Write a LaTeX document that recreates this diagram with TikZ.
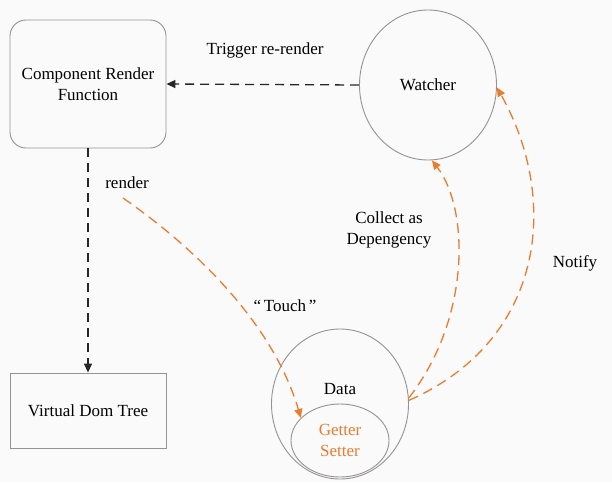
\documentclass[tikz,border=0pt]{standalone}
\usepackage{fontspec}
\setmainfont{Liberation Serif}
\usetikzlibrary{arrows.meta,shapes.geometric}
\definecolor{flow}{RGB}{234,124,48}
\definecolor{edge}{RGB}{150,146,146}
\definecolor{paper}{RGB}{250,250,250}
\tikzset{
  shapeline/.style={draw=edge, line width=0.9pt},
  dashblack/.style={draw=black!85, line width=1.3pt, dash pattern=on 9pt off 6pt,
    -{Triangle[length=9pt,width=8pt]}},
  dashorange/.style={draw=flow, line width=1.3pt, dash pattern=on 10pt off 6pt,
    -{Triangle[length=9pt,width=8pt,fill=flow]}},
  lbl/.style={font=\fontsize{17}{20.5}\selectfont, align=center}
}
\begin{document}
\begin{tikzpicture}[x=1pt,y=-1pt]
  \fill[paper] (0,0) rectangle (612,482);
  \useasboundingbox (0,0) rectangle (612,482);

  % boxes
  \node[shapeline, rounded corners=16pt, minimum width=156pt, minimum height=128pt,
        lbl] (comp) at (88,84) {Component Render\\Function};
  \node[shapeline, minimum width=156pt, minimum height=75pt, lbl] (vdom) at (88,410.5) {Virtual Dom Tree};

  % watcher and data
  \node[shapeline, ellipse, minimum width=137pt, minimum height=150pt, inner sep=0pt, lbl] (watch) at (428,85) {Watcher};
  \node[shapeline, ellipse, minimum width=137pt, minimum height=150pt, inner sep=0pt] (data) at (340,404) {};
  \node[lbl] (datalbl) at (340,389) {Data};
  \node[shapeline, ellipse, minimum width=98pt, minimum height=73pt, inner sep=0pt,
        lbl, text=flow] (gs) at (340,440.5) {Getter\\Setter};

  % black connectors
  \draw[dashblack] (watch.west) -- (comp.east);
  \draw[dashblack] (comp.south) -- (vdom.north);

  % orange connectors
  \coordinate (rstart) at (123,198);
  \draw[dashorange] (rstart) .. controls (205,255) and (275,330) .. (gs.150);
  \draw[dashorange] (data.5) .. controls (470,320) and (470,210) .. (watch.-87);
  \draw[dashorange] (data.3) .. controls (545,340) and (560,200) .. (watch.-2);

  % labels
  \node[lbl] (ltrig) at (265,50) {Trigger re-render};
  \node[lbl] (lrender) at (127,183) {render};
  \node[lbl] (ltouch) at (285,306) {“\,Touch\,”};
  \node[lbl] (lcoll) at (389,230) {Collect as\\Depengency};
  \node[lbl] (lnot) at (575,263) {Notify};
\end{tikzpicture}
\end{document}
